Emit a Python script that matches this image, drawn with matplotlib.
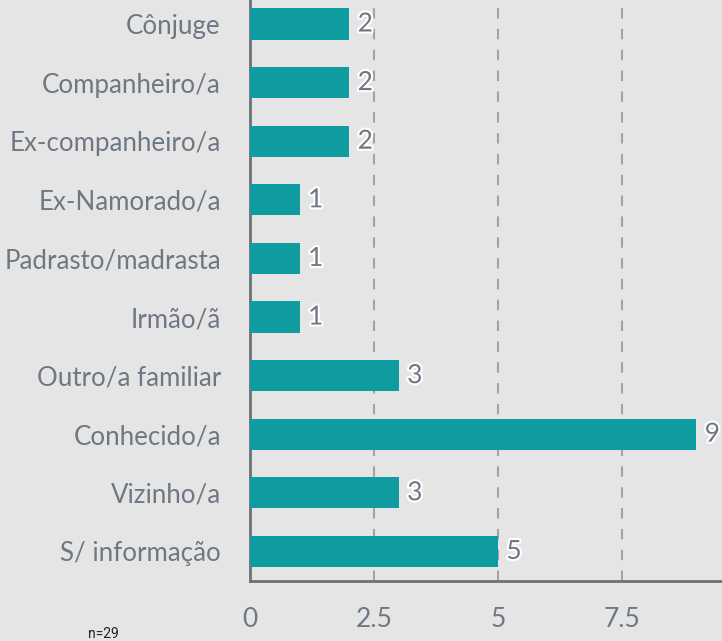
import matplotlib.pyplot as plt
import matplotlib.patheffects as pe

# ── data ──────────────────────────────────────────────────────────────
categories = ["Cônjuge", "Companheiro/a", "Ex-companheiro/a", "Ex-Namorado/a",
              "Padrasto/madrasta", "Irmão/ã", "Outro/a familiar", "Conhecido/a",
              "Vizinho/a", "S/ informação"]
counts = [2, 2, 2, 1, 1, 1, 3, 9, 3, 5]
xticks = [0, 2.5, 5, 7.5]
xtick_labels = ["0", "2.5", "5", "7.5"]
note = "n=29"

BG = "#e5e5e5"
BAR = "#0e9ca1"
TXT = "#6e7883"

plt.rcParams["font.family"] = ["Lato", "DejaVu Sans"]

fig = plt.figure(figsize=(7.22, 6.41), dpi=100, facecolor=BG)
W, H = 722, 641
ax = fig.add_axes([250 / W, (H - 581) / H, (W - 250) / W, 581 / H])
ax.set_facecolor(BG)

ypos = list(range(len(categories)))
ax.barh(ypos, counts, height=0.53, color=BAR, zorder=3)
for y, v in zip(ypos, counts):
    ax.text(v + 0.17, y, str(v), va="center", ha="left", fontsize=19,
            color=TXT, zorder=4,
            path_effects=[pe.withStroke(linewidth=3, foreground="white")])

ax.set_ylim(9.505, -0.41)
ax.set_xlim(0, 9.52)
ax.set_yticks(ypos)
ax.set_yticklabels(categories, fontsize=18.6, color=TXT)
ax.set_xticks(xticks)
ax.set_xticklabels(xtick_labels, fontsize=19, color=TXT)
ax.tick_params(length=0, pad=21, axis="y")
ax.tick_params(length=0, pad=19, axis="x")

for x in xticks[1:]:
    ax.axvline(x, color="#a3a3a3", lw=1.5, ls=(0, (5, 5)), zorder=1)

for s in ["top", "right"]:
    ax.spines[s].set_visible(False)
for s in ["left", "bottom"]:
    ax.spines[s].set_color("#6b7079")
    ax.spines[s].set_linewidth(2)

fig.text(88 / W, 1 - 638 / H, note, fontsize=10, color="#222222",
         family=["Roboto", "DejaVu Sans"], va="baseline")

fig.savefig("out.png", dpi=100, facecolor=BG)
